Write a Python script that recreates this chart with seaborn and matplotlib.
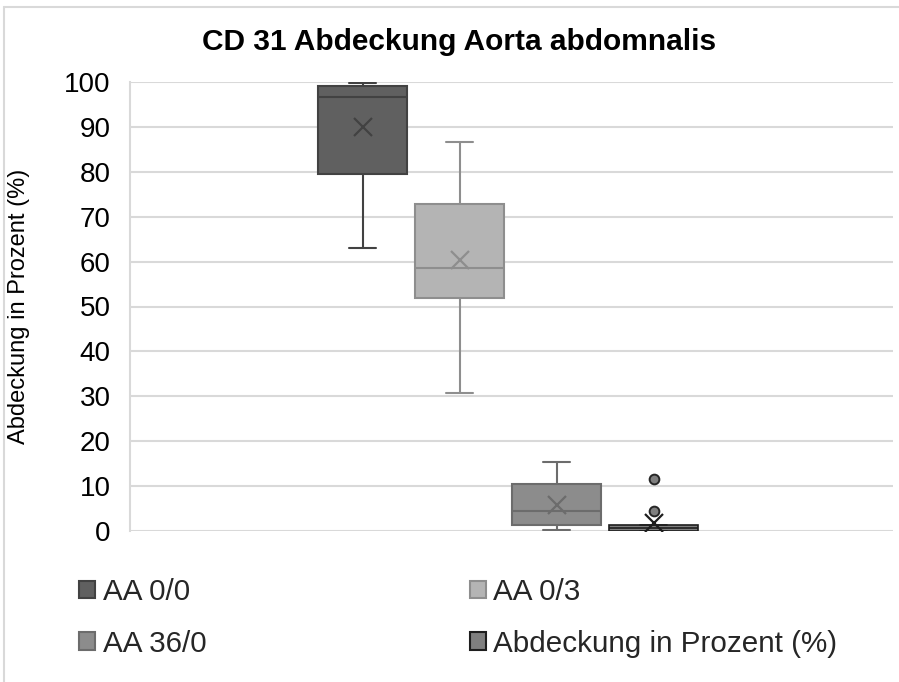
import matplotlib
matplotlib.use("Agg")
import matplotlib.pyplot as plt
from matplotlib.patches import Patch
from matplotlib.lines import Line2D
import seaborn as sns
import pandas as pd

# ---- data (samples chosen so box statistics match the chart) ----
series_names = ["AA 0/0", "AA 0/3", "AA 36/0", "Abdeckung in Prozent (%)"]
aa_0_0 = [63.1, 77.0, 79.5, 95.5, 96.6, 98.8, 99.2, 99.6, 99.8]
aa_0_3 = [30.7, 45.0, 51.8, 55.0, 58.6, 66.0, 72.8, 77.1, 86.6]
aa_36_0 = [0.2, 0.8, 1.3, 2.5, 4.5, 5.5, 10.5, 11.5, 15.4]
abdeckung = [0.0, 0.0, 0.0, 0.1, 0.3, 0.5, 0.6, 0.8, 1.0, 1.3, 1.3, 4.5, 11.6]
y_ticks = [0, 10, 20, 30, 40, 50, 60, 70, 80, 90, 100]
title = "CD 31 Abdeckung Aorta abdomnalis"
y_label = "Abdeckung in Prozent (%)"

fills = ["#606060", "#b4b4b4", "#8c8c8c", "#7f7f7f"]
edges = ["#424242", "#8e8e8e", "#6c6c6c", "#1e1e1e"]
line_widths = [1.5, 1.5, 1.5, 1.2]

rows = []
for name, vals in zip(series_names, [aa_0_0, aa_0_3, aa_36_0, abdeckung]):
    for v in vals:
        rows.append({"grp": "", "series": name, "value": v})
df = pd.DataFrame(rows)

sns.set_theme(style="white")
plt.rcParams["font.family"] = ["Liberation Sans", "DejaVu Sans"]

W, H = 899, 682
fig = plt.figure(figsize=(W / 100, H / 100), dpi=100)
L, R, T, B = 130, 893, 82, 531
ax = fig.add_axes([L / W, 1 - B / H, (R - L) / W, (B - T) / H])

gridc = "#d9d9d9"
ax.set_axisbelow(True)
ax.yaxis.grid(True, color=gridc, lw=1.5)

for name, fc, ec, lw in zip(series_names, fills, edges, line_widths):
    sub = df[df["series"] == name]
    sns.boxplot(
        data=sub, x="grp", y="value", hue="series", hue_order=series_names,
        dodge=True, width=0.8, gap=0.08, palette={n: fc for n in series_names},
        linecolor=ec, linewidth=lw, saturation=1, legend=False, ax=ax,
        showmeans=True,
        meanprops=dict(marker="x", markeredgecolor=ec, markerfacecolor=ec,
                       markersize=13, markeredgewidth=1.6),
        flierprops=dict(marker="o", markerfacecolor="#7f7f7f",
                        markeredgecolor="#262626", markersize=7, markeredgewidth=1.4),
        capwidths=0.055,
    )

ax.set_ylim(0, 100)
ax.set_xlim(-(508 - L) / 485, (R - 508) / 485)
ax.set_yticks(y_ticks)
ax.set_yticklabels([str(t) for t in y_ticks], fontsize=20, color="#000000")
ax.tick_params(axis="y", length=0, pad=14)
ax.set_xticks([])
ax.set_xlabel("")
ax.set_ylabel(y_label, fontsize=17, color="#000000")
ax.yaxis.set_label_coords((30 - L) / (R - L), 0.5)
for s in ["top", "right", "bottom"]:
    ax.spines[s].set_visible(False)
ax.spines["left"].set_color(gridc)
ax.spines["left"].set_linewidth(1.5)

ax.set_title(title, fontsize=21.5, fontweight="bold", x=(459 - L) / (R - L),
             y=(B - 42) / (B - T), va="center", color="#000000", pad=0)

handles = [Patch(facecolor=fc, edgecolor=ec, linewidth=1.5) for fc, ec in zip(fills, edges)]
order = [0, 2, 1, 3]
fig.legend([handles[i] for i in order], [series_names[i] for i in order],
           ncol=2, loc="upper left", bbox_to_anchor=(79 / W, 1 - 578 / H),
           frameon=False, fontsize=21.3, handlelength=0.55, handleheight=0.55,
           handletextpad=0.25, columnspacing=8.9, labelspacing=0.8,
           borderaxespad=0, borderpad=0)

# chart-area border (Excel style)
fig.add_artist(Line2D([3.5 / W, 3.5 / W], [0, 1 - 6.5 / H], color=gridc, lw=1.5))
fig.add_artist(Line2D([3.5 / W, 1], [1 - 6.5 / H, 1 - 6.5 / H], color=gridc, lw=1.5))

fig.savefig("out.png", dpi=100)
